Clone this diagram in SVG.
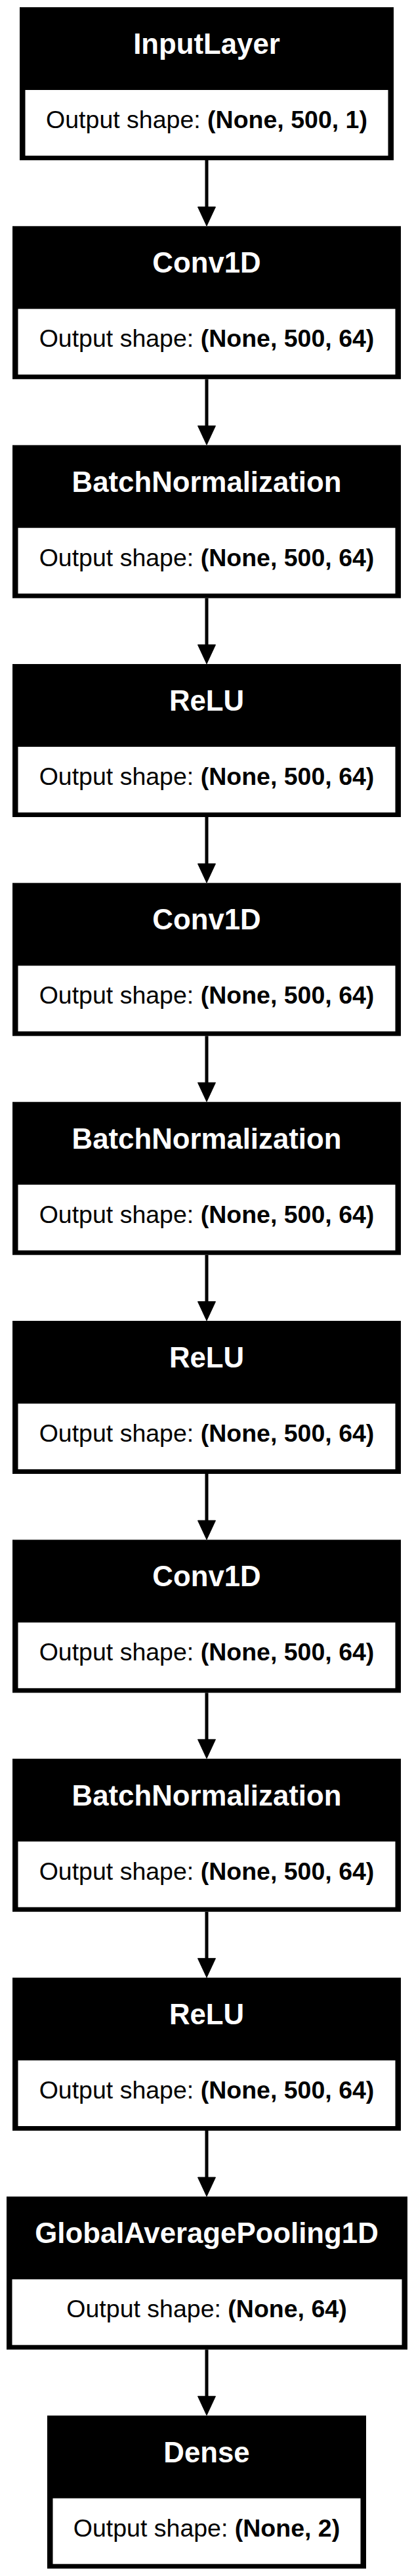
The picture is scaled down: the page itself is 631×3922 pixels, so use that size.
<svg xmlns="http://www.w3.org/2000/svg" width="631" height="3922" viewBox="0 0 631 3922">
<style>
.bg{fill:#fff}
.outer{fill:#000}
.inner{fill:#fff}
.title{font-family:"Liberation Sans",Arial,sans-serif;font-size:43.75px;font-weight:bold;fill:#fff;text-anchor:middle}
.out{font-family:"Liberation Sans",Arial,sans-serif;font-size:37.5px;fill:#000;text-anchor:middle}
.b{font-weight:bold}
.edge{stroke:#000;stroke-width:5;fill:none}
.head{fill:#000;stroke:#000;stroke-width:1}
</style>
<rect class="bg" x="0" y="0" width="631" height="3922"/>
<g id="connectors">
<line class="edge" x1="315" y1="244" x2="315" y2="316"/><polygon class="head" points="301.5,315 328.5,315 315,344"/>
<line class="edge" x1="315" y1="577.3" x2="315" y2="649.3"/><polygon class="head" points="301.5,648.3 328.5,648.3 315,677.3"/>
<line class="edge" x1="315" y1="910.7" x2="315" y2="982.7"/><polygon class="head" points="301.5,981.7 328.5,981.7 315,1010.7"/>
<line class="edge" x1="315" y1="1244" x2="315" y2="1316"/><polygon class="head" points="301.5,1315 328.5,1315 315,1344"/>
<line class="edge" x1="315" y1="1577.3" x2="315" y2="1649.3"/><polygon class="head" points="301.5,1648.3 328.5,1648.3 315,1677.3"/>
<line class="edge" x1="315" y1="1910.7" x2="315" y2="1982.7"/><polygon class="head" points="301.5,1981.7 328.5,1981.7 315,2010.7"/>
<line class="edge" x1="315" y1="2244" x2="315" y2="2316"/><polygon class="head" points="301.5,2315 328.5,2315 315,2344"/>
<line class="edge" x1="315" y1="2577.3" x2="315" y2="2649.3"/><polygon class="head" points="301.5,2648.3 328.5,2648.3 315,2677.3"/>
<line class="edge" x1="315" y1="2910.7" x2="315" y2="2982.7"/><polygon class="head" points="301.5,2981.7 328.5,2981.7 315,3010.7"/>
<line class="edge" x1="315" y1="3244" x2="315" y2="3316"/><polygon class="head" points="301.5,3315 328.5,3315 315,3344"/>
<line class="edge" x1="315" y1="3577.3" x2="315" y2="3649.3"/><polygon class="head" points="301.5,3648.3 328.5,3648.3 315,3677.3"/>
</g>
<g id="n0"><rect class="outer" x="30" y="11" width="570" height="233"/><rect class="inner" x="38.5" y="137" width="553" height="100"/><text class="title" x="315" y="82">InputLayer</text><text class="out" x="315" y="195">Output shape: <tspan class="b">(None, 500, 1)</tspan></text></g>
<g id="n1"><rect class="outer" x="19" y="344.3" width="592" height="233"/><rect class="inner" x="27.5" y="470.3" width="575" height="100"/><text class="title" x="315" y="415.3">Conv1D</text><text class="out" x="315" y="528.3">Output shape: <tspan class="b">(None, 500, 64)</tspan></text></g>
<g id="n2"><rect class="outer" x="19" y="677.7" width="592" height="233"/><rect class="inner" x="27.5" y="803.7" width="575" height="100"/><text class="title" x="315" y="748.7">BatchNormalization</text><text class="out" x="315" y="861.7">Output shape: <tspan class="b">(None, 500, 64)</tspan></text></g>
<g id="n3"><rect class="outer" x="19" y="1011" width="592" height="233"/><rect class="inner" x="27.5" y="1137" width="575" height="100"/><text class="title" x="315" y="1082">ReLU</text><text class="out" x="315" y="1195">Output shape: <tspan class="b">(None, 500, 64)</tspan></text></g>
<g id="n4"><rect class="outer" x="19" y="1344.3" width="592" height="233"/><rect class="inner" x="27.5" y="1470.3" width="575" height="100"/><text class="title" x="315" y="1415.3">Conv1D</text><text class="out" x="315" y="1528.3">Output shape: <tspan class="b">(None, 500, 64)</tspan></text></g>
<g id="n5"><rect class="outer" x="19" y="1677.7" width="592" height="233"/><rect class="inner" x="27.5" y="1803.7" width="575" height="100"/><text class="title" x="315" y="1748.7">BatchNormalization</text><text class="out" x="315" y="1861.7">Output shape: <tspan class="b">(None, 500, 64)</tspan></text></g>
<g id="n6"><rect class="outer" x="19" y="2011" width="592" height="233"/><rect class="inner" x="27.5" y="2137" width="575" height="100"/><text class="title" x="315" y="2082">ReLU</text><text class="out" x="315" y="2195">Output shape: <tspan class="b">(None, 500, 64)</tspan></text></g>
<g id="n7"><rect class="outer" x="19" y="2344.3" width="592" height="233"/><rect class="inner" x="27.5" y="2470.3" width="575" height="100"/><text class="title" x="315" y="2415.3">Conv1D</text><text class="out" x="315" y="2528.3">Output shape: <tspan class="b">(None, 500, 64)</tspan></text></g>
<g id="n8"><rect class="outer" x="19" y="2677.7" width="592" height="233"/><rect class="inner" x="27.5" y="2803.7" width="575" height="100"/><text class="title" x="315" y="2748.7">BatchNormalization</text><text class="out" x="315" y="2861.7">Output shape: <tspan class="b">(None, 500, 64)</tspan></text></g>
<g id="n9"><rect class="outer" x="19" y="3011" width="592" height="233"/><rect class="inner" x="27.5" y="3137" width="575" height="100"/><text class="title" x="315" y="3082">ReLU</text><text class="out" x="315" y="3195">Output shape: <tspan class="b">(None, 500, 64)</tspan></text></g>
<g id="n10"><rect class="outer" x="10" y="3344.3" width="611" height="233"/><rect class="inner" x="18.5" y="3470.3" width="594" height="100"/><text class="title" x="315" y="3415.3">GlobalAveragePooling1D</text><text class="out" x="315" y="3528.3">Output shape: <tspan class="b">(None, 64)</tspan></text></g>
<g id="n11"><rect class="outer" x="72" y="3677.7" width="486" height="233"/><rect class="inner" x="80.5" y="3803.7" width="469" height="100"/><text class="title" x="315" y="3748.7">Dense</text><text class="out" x="315" y="3861.7">Output shape: <tspan class="b">(None, 2)</tspan></text></g>
</svg>
